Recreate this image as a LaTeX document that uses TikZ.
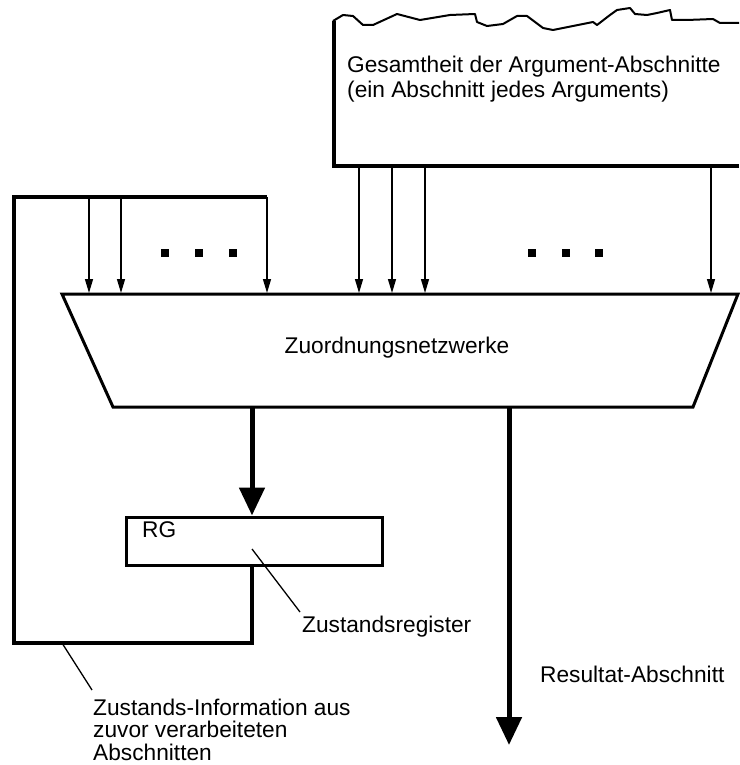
\documentclass[tikz,border=0pt]{standalone}
\usepackage{fontspec}
\setmainfont{Liberation Sans}
\usetikzlibrary{arrows.meta}
\begin{document}
\begin{tikzpicture}[x=1pt,y=-1pt,
  thinarrow/.style={line width=1.3pt,-{Triangle[length=14pt,width=8pt]}},
  thickarrow/.style={line width=5pt,-{Triangle[length=28pt,width=25pt]}},
  lbl/.style={font=\fontsize{22.7}{25}\selectfont, inner sep=0pt, align=left},
  sq/.style={fill=black, minimum size=8pt, inner sep=0pt},
  leader/.style={line width=1.3pt}]
\useasboundingbox (0,0) rectangle (739,765);
% argument box (open on the right, torn top edge)
\draw[line width=3.5pt] (739,166) -- (334,166) -- (334,21);
\draw[line width=2pt, line join=round]
  (333,21) -- (343,15) -- (353,16) -- (363,25) -- (373,25) -- (397,14) -- (420,20)
  -- (450,15) -- (475,14) -- (477,22) -- (487,26) -- (503,24) -- (517,16) -- (527,16)
  -- (543,28) -- (553,30) -- (573,26) -- (593,22) -- (597,25) -- (610,15) -- (617,10)
  -- (630,8) -- (635,14) -- (647,15) -- (657,13) -- (670,10) -- (672,20) -- (687,20)
  -- (713,19) -- (720,23) -- (739,23);
\node[lbl, anchor=north west] (arg) at (347,55.4)
  {Gesamtheit der Argument-Abschnitte\\(ein Abschnitt jedes Arguments)};
% trapezoid
\coordinate (ttl) at (62,294);
\coordinate (ttr) at (738,294);
\coordinate (tbr) at (693,407);
\coordinate (tbl) at (113,407);
\draw[line width=3pt, line join=miter] (ttl) -- (ttr) -- (tbr) -- (tbl) -- cycle;
\node[lbl, anchor=base] (zn) at (397,353) {Zuordnungsnetzwerke};
% arrows from the argument box
\foreach \x/\n in {359/a1,392/a2,425/a3,711/a4}{
  \coordinate (\n s) at (\x,166);
  \coordinate (\n e) at (\x,293);
  \draw[thinarrow] (\n s) -- (\n e);
}
% state loop
\coordinate (lc) at (267,197);
\coordinate (rgb) at (252,565);
\draw[line width=4.5pt, line join=miter] (lc) -- (14,197) -- (14,643) -- (252,643) -- (rgb);
\foreach \x/\n in {89/b1,121/b2,267/b3}{
  \coordinate (\n s) at (\x,197);
  \coordinate (\n e) at (\x,293);
  \draw[thinarrow] (\n s) -- (\n e);
}
% dots
\foreach \x/\n in {165/d1,199/d2,233/d3,532/d4,566/d5,599/d6}{
  \node[sq] (\n) at (\x,253) {};
}
% register
\node[draw, line width=3pt, minimum width=256pt, minimum height=48pt, inner sep=0pt] (rg) at (254,541) {};
\node[lbl, anchor=base west] (rgt) at (142,537) {RG};
\coordinate (ta) at (252,407);
\draw[thickarrow] (ta) -- (rg.north -| ta);
% result
\coordinate (ra) at (509,407);
\coordinate (re) at (509,745);
\draw[thickarrow] (ra) -- (re);
\node[lbl, anchor=base west] (res) at (540,682) {Resultat-Abschnitt};
% labels with leaders
\node[lbl, anchor=base west] (zr) at (302,632) {Zustandsregister};
\coordinate (zrp) at (252,549);
\coordinate (zre) at (300,612);
\draw[leader] (zrp) -- (zre);
\node[lbl, anchor=north west, font=\fontsize{22.7}{22.5}\selectfont] (zi) at (93,698.4)
  {Zustands-Information aus\\zuvor verarbeiteten\\Abschnitten};
\coordinate (zip) at (62,643);
\coordinate (zie) at (92,690);
\draw[leader] (zip) -- (zie);
\end{tikzpicture}
\end{document}
